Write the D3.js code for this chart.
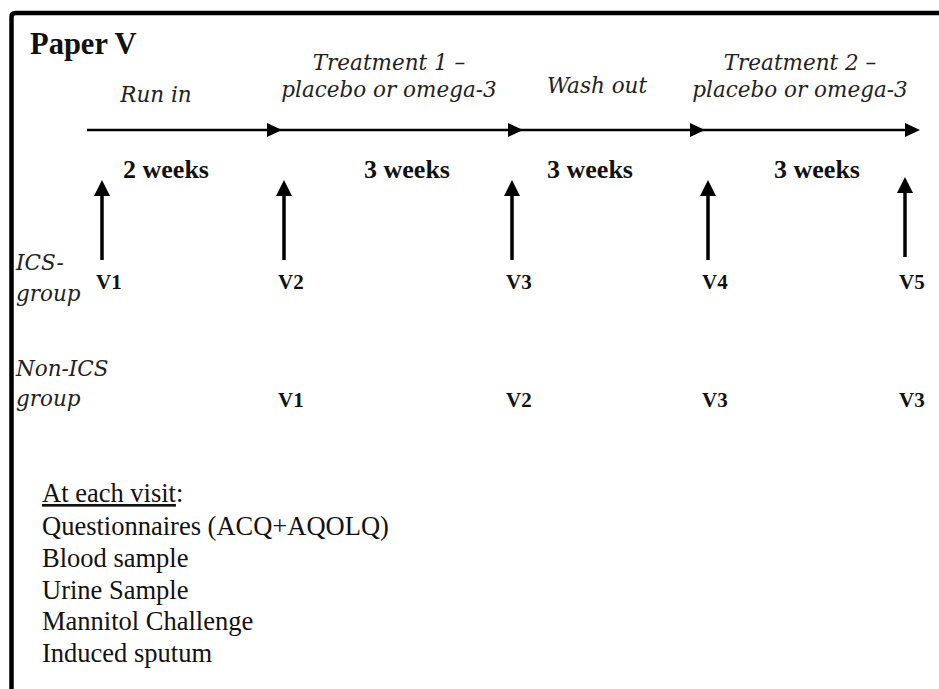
<!DOCTYPE html>
<html lang="en">
<head>
    <meta charset="UTF-8">
    <title>Paper V</title>
    <script src="https://cdn.jsdelivr.net/npm/d3@7"></script>
    <style>
        html, body {
            margin: 0;
            padding: 0;
            background: #ffffff;
            overflow: hidden;
        }
        text {
            font-family: "Liberation Serif";
            fill: #111111;
        }
        .phase {
            font-family: "DejaVu Serif";
            font-style: italic;
            font-size: 21.5px;
            text-anchor: middle;
            fill: #222222;
        }
        .weeks {
            font-weight: bold;
            font-size: 26px;
            text-anchor: middle;
        }
        .visit {
            font-weight: bold;
            font-size: 21px;
        }
        .group {
            font-family: "DejaVu Serif";
            font-style: italic;
            font-size: 21.5px;
            fill: #222222;
        }
        .item {
            font-size: 26.5px;
        }
    </style>
</head>
<body>
<script>
    // data
    const title = 'Paper V';
    const phases = [
        ['Run in'],
        ['Treatment 1 \u2013', 'placebo or omega-3'],
        ['Wash out'],
        ['Treatment 2 \u2013', 'placebo or omega-3']
    ];
    const durations = ['2 weeks', '3 weeks', '3 weeks', '3 weeks'];
    const visitSlots = [0, 1, 2, 3, 4];
    const icsVisits = ['V1', 'V2', 'V3', 'V4', 'V5'];
    const nonIcsVisits = ['', 'V1', 'V2', 'V3', 'V3'];
    const groups = [['ICS-', 'group'], ['Non-ICS', 'group']];
    const visitHeader = 'At each visit';
    const visitItems = [
        'Questionnaires (ACQ+AQOLQ)',
        'Blood sample',
        'Urine Sample',
        'Mannitol Challenge',
        'Induced sputum'
    ];

    let width = 939;
    let height = 689;

    let svg = d3.select('body')
        .append('svg')
        .attr('width', width)
        .attr('height', height);

    // layout scales
    let visitX = d3.scaleOrdinal().domain(visitSlots).range([102, 284, 512, 708, 905]);
    let phaseEnd = d3.scaleOrdinal().domain(d3.range(phases.length)).range([282, 523, 705, 920]);
    let phaseMid = d3.scaleOrdinal().domain(d3.range(phases.length)).range([156, 389, 597, 800]);
    let weekMid = d3.scaleOrdinal().domain(d3.range(durations.length)).range([166, 407, 590, 817]);

    // frame (top + left only)
    svg.append('path')
        .attr('d', 'M11.5,' + height + ' V17 Q11.5,13 15.5,13 H' + width)
        .attr('fill', 'none')
        .attr('stroke', '#000')
        .attr('stroke-width', 4.5);

    svg.append('text')
        .attr('x', 30)
        .attr('y', 54)
        .style('font-weight', 'bold')
        .style('font-size', '30.5px')
        .text(title);

    // timeline
    const lineY = 130;
    svg.append('line')
        .attr('x1', 87).attr('x2', phaseEnd(phases.length - 1) - 10)
        .attr('y1', lineY).attr('y2', lineY)
        .attr('stroke', '#000')
        .attr('stroke-width', 2.5);

    svg.selectAll('.h-head')
        .data(d3.range(phases.length))
        .enter().append('path')
        .classed('h-head', true)
        .attr('d', i => {
            let t = phaseEnd(i);
            return `M${t},${lineY} L${t - 15},${lineY - 7} L${t - 15},${lineY + 7} Z`;
        })
        .attr('fill', '#000');

    // phase labels
    let phase = svg.selectAll('.phase')
        .data(phases)
        .enter().append('text')
        .classed('phase', true)
        .attr('x', (d, i) => phaseMid(i))
        .attr('y', d => d.length > 1 ? 70 : (d[0] === 'Run in' ? 102 : 93));
    phase.selectAll('tspan')
        .data(d => d)
        .enter().append('tspan')
        .attr('x', function () { return d3.select(this.parentNode).attr('x'); })
        .attr('dy', (d, j) => j === 0 ? 0 : 27)
        .text(d => d);

    // durations
    svg.selectAll('.weeks')
        .data(durations)
        .enter().append('text')
        .classed('weeks', true)
        .attr('x', (d, i) => weekMid(i))
        .attr('y', 178)
        .text(d => d);

    // visit arrows
    let arrows = svg.selectAll('.v-arrow')
        .data(visitSlots)
        .enter().append('g')
        .classed('v-arrow', true)
        .attr('transform', d => `translate(${visitX(d)},0)`);
    arrows.append('line')
        .attr('x1', 0).attr('x2', 0)
        .attr('y1', (d, i) => i === 4 ? 190 : 194)
        .attr('y2', (d, i) => i === 4 ? 257 : 260)
        .attr('stroke', '#000')
        .attr('stroke-width', 3.5);
    arrows.append('path')
        .attr('d', (d, i) => {
            let tip = i === 4 ? 177 : 180;
            return `M0,${tip} L-8,${tip + 16} L8,${tip + 16} Z`;
        })
        .attr('fill', '#000');

    // visit labels
    svg.selectAll('.visit-ics')
        .data(icsVisits)
        .enter().append('text')
        .classed('visit', true)
        .attr('x', (d, i) => visitX(i) - 6)
        .attr('y', 289)
        .text(d => d);

    svg.selectAll('.visit-non')
        .data(nonIcsVisits)
        .enter().append('text')
        .classed('visit', true)
        .attr('x', (d, i) => visitX(i) - 6)
        .attr('y', 407)
        .text(d => d);

    // group labels
    let groupY = [[270, 301], [376, 406]];
    groups.forEach((g, gi) => {
        let t = svg.append('text').classed('group', true);
        g.forEach((line, li) => {
            t.append('tspan')
                .attr('x', 16)
                .attr('y', groupY[gi][li])
                .text(line);
        });
    });

    // at each visit
    let hdr = svg.append('text')
        .classed('item', true)
        .attr('x', 42)
        .attr('y', 502);
    hdr.append('tspan')
        .style('text-decoration', 'underline')
        .text(visitHeader);
    hdr.append('tspan').text(':');

    svg.selectAll('.list-item')
        .data(visitItems)
        .enter().append('text')
        .classed('item', true)
        .attr('x', 42)
        .attr('y', (d, i) => 535 + i * 31.8)
        .text(d => d);
</script>
</body>
</html>
